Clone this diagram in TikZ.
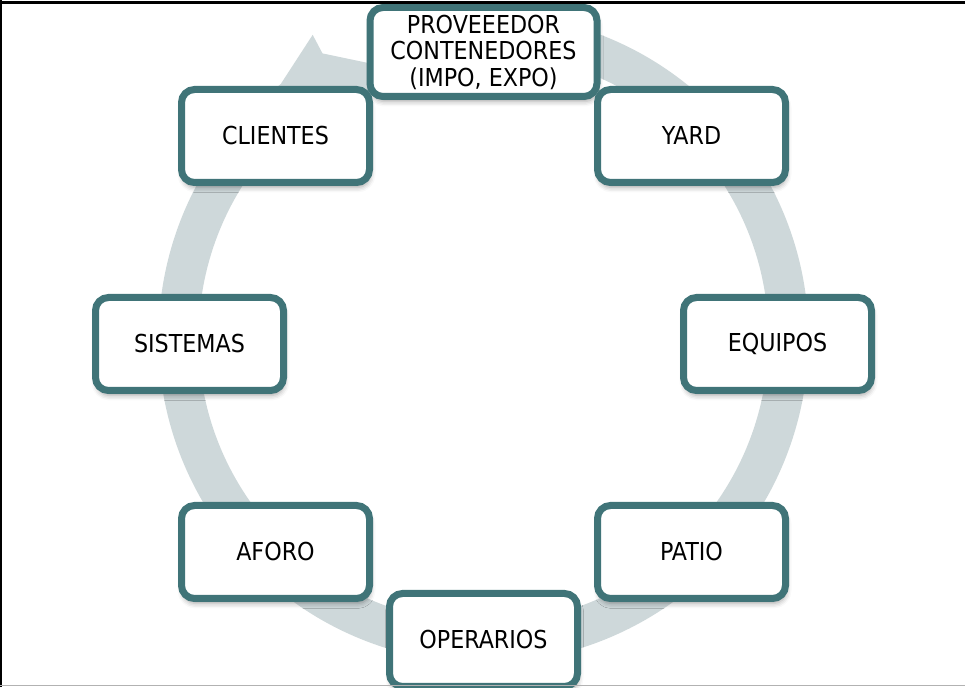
\documentclass[tikz,border=0pt]{standalone}
\usepackage{fontspec}
\setmainfont{DejaVu Sans Condensed}
\usetikzlibrary{shadows.blur}
\definecolor{boxedge}{RGB}{64,116,120}
\definecolor{ringfill}{RGB}{206,216,218}
\begin{document}
\begin{tikzpicture}[x=1pt,y=1pt,
  stagebox/.style={draw=boxedge, line width=7pt, fill=white, rounded corners=13pt,
    minimum width=188pt, minimum height=93pt, inner sep=0pt, align=center,
    font=\fontsize{24.7}{26.5}\selectfont,
    blur shadow={shadow xshift=1pt, shadow yshift=-5pt, shadow blur radius=5pt, shadow opacity=35}},
  ringshape/.style={fill=ringfill, draw=none}]
\useasboundingbox (0,0) rectangle (965,687);

% circular arrow running clockwise, head at the upper left
\begin{scope}[shift={(483.5,349)}]
  \path[ringshape]
    (78:325pt) arc[start angle=78, end angle=-231.4, radius=325pt]
    -- (-240.6:348pt) -- (-240.5:327pt) -- (-252:283pt)
    -- (-239:262pt) -- (-231.4:285pt)
    arc[start angle=-231.4, end angle=78, radius=285pt] -- cycle;
\end{scope}

% stages of the cycle
\node[stagebox, minimum width=227pt, minimum height=89pt] (prov) at (483.5,635) {PROVEEEDOR\\CONTENEDORES\\(IMPO, EXPO)};
\node[stagebox] (yard) at (691.5,551) {YARD};
\node[stagebox] (equipos) at (777.5,343) {EQUIPOS};
\node[stagebox] (patio) at (691.5,135) {PATIO};
\node[stagebox] (operarios) at (483.5,47) {OPERARIOS};
\node[stagebox] (aforo) at (275.5,135) {AFORO};
\node[stagebox] (sistemas) at (189.5,343) {SISTEMAS};
\node[stagebox] (clientes) at (275.5,551) {CLIENTES};

% outer frame lines
\draw[line width=3pt] (0,684.5) -- (965,684.5);
\draw[line width=2pt] (1,0) -- (1,687);
\draw[line width=1.5pt, gray!60] (0,1.5) -- (965,1.5);
\end{tikzpicture}
\end{document}
